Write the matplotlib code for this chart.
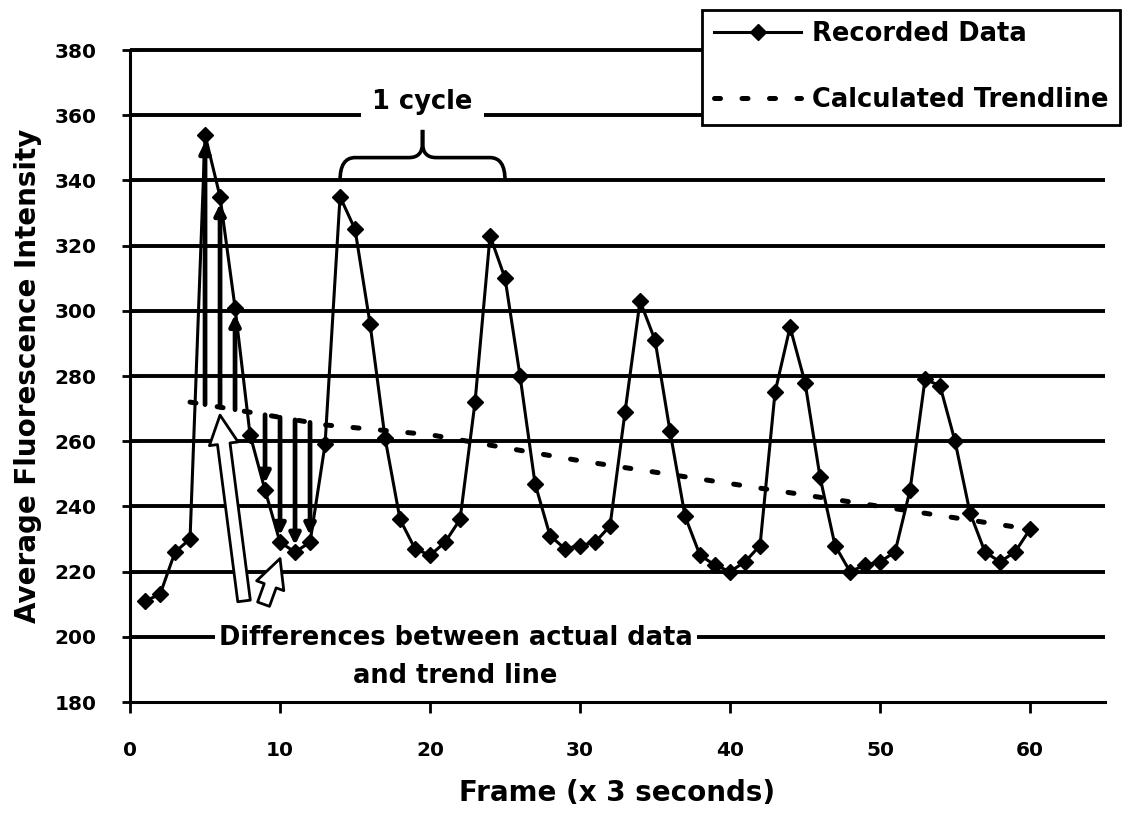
import numpy as np
import matplotlib
matplotlib.use("Agg")
import matplotlib.pyplot as plt
from matplotlib.path import Path
from matplotlib.patches import PathPatch

# values
frames = list(range(1, 61))
recorded = [211, 213, 226, 230, 354, 335, 301, 262, 245, 229,
            226, 229, 259, 335, 325, 296, 261, 236, 227, 225,
            229, 236, 272, 323, 310, 280, 247, 231, 227, 228,
            229, 234, 269, 303, 291, 263, 237, 225, 222, 220,
            223, 228, 275, 295, 278, 249, 228, 220, 222, 223,
            226, 245, 279, 277, 260, 238, 226, 223, 226, 233]

trend_frames = [4, 13, 20, 30, 40, 50, 60]
trend_values = [272, 265, 262, 254, 247, 240, 233]

# frames where the gap to the trend line is marked with arrows
diff_up = [5, 6, 7]
diff_down = [9, 10, 11, 12]

# peaks bracketed as "1 cycle"
cycle_start, cycle_end = 14, 25

y_ticks = list(range(180, 381, 20))
x_ticks = list(range(0, 61, 10))

plt.rcParams['font.family'] = 'DejaVu Sans'
plt.rcParams['font.weight'] = 'bold'
plt.rcParams['axes.labelweight'] = 'bold'

fig = plt.figure(figsize=(11.23, 8.16), dpi=100)
ax = fig.add_axes([0.1158, 0.1397, 0.8682, 0.799])

ax.set_xlim(0, 65)
ax.set_ylim(180, 380)

# heavy horizontal rules instead of the default grid
ax.hlines(y_ticks[1:], 0, 65, color='black', lw=2.8, clip_on=False, zorder=1)

ax.plot(trend_frames, trend_values, color='black', lw=3.6,
        linestyle=(0, (1.2, 4.3)), dash_capstyle='round', zorder=3,
        label='Calculated Trendline')
ax.plot(frames, recorded, color='black', lw=2.2, marker='D', ms=8.5,
        zorder=4, label='Recorded Data')

# arrows between trend line and data
for f in diff_up + diff_down:
    start = np.interp(f, trend_frames, trend_values)
    ax.annotate('', xy=(f, recorded[f - 1]), xytext=(f, start),
                arrowprops=dict(arrowstyle='-|>', color='black', lw=3.4,
                                mutation_scale=16, shrinkA=0, shrinkB=5),
                zorder=4)

hollow = dict(arrowstyle='simple,head_length=0.8,head_width=0.8,tail_width=0.35',
              fc='white', ec='black', lw=2, mutation_scale=26,
              shrinkA=0, shrinkB=0)
ax.annotate('', xy=(6.0, 268), xytext=(7.6, 211), arrowprops=hollow, zorder=5)
ax.annotate('', xy=(10.0, 224), xytext=(8.9, 210), arrowprops=hollow, zorder=5)

ax.text(21.7, 199.5, 'Differences between actual data', ha='center', va='center',
        fontsize=18.5, zorder=6, bbox=dict(fc='white', ec='none', pad=3))
ax.text(21.7, 188, 'and trend line', ha='center', va='center', fontsize=18.5,
        zorder=6)

# curly brace over one cycle
mid = (cycle_start + cycle_end) / 2
lo, hi, top = 340, 347, 355.5
verts = [(cycle_start, lo), (cycle_start, hi), (cycle_start + 1, hi),
         (mid - 0.9, hi), (mid, hi), (mid, hi + 4.5), (mid, top),
         (mid, hi + 4.5), (mid, hi), (mid + 0.9, hi),
         (cycle_end - 1, hi), (cycle_end, hi), (cycle_end, lo)]
codes = [Path.MOVETO, Path.CURVE3, Path.CURVE3,
         Path.LINETO, Path.CURVE3, Path.CURVE3, Path.LINETO,
         Path.LINETO, Path.CURVE3, Path.CURVE3,
         Path.LINETO, Path.CURVE3, Path.CURVE3]
ax.add_patch(PathPatch(Path(verts, codes), fill=False, ec='black', lw=2.6,
                       zorder=5))
ax.text(mid, 362, '1 cycle', ha='center', va='baseline', fontsize=18.5,
        zorder=6, bbox=dict(fc='white', ec='none', pad=8))

ax.set_yticks(y_ticks)
ax.set_xticks(x_ticks)
ax.tick_params(axis='y', direction='inout', length=12, width=2, pad=18,
               labelsize=14.5)
ax.tick_params(axis='x', direction='out', length=8, width=2, pad=20,
               labelsize=14.5)
for side in ['top', 'right']:
    ax.spines[side].set_visible(False)
for side in ['left', 'bottom']:
    ax.spines[side].set_linewidth(2.2)

ax.set_ylabel('Average Fluorescence Intensity', fontsize=20, labelpad=9)
ax.set_xlabel('Frame (x 3 seconds)', fontsize=20, labelpad=14)

handles, labels = ax.get_legend_handles_labels()
leg = ax.legend(handles[::-1], labels[::-1], loc='upper right',
                bbox_to_anchor=(0.997, 0.988), bbox_transform=fig.transFigure,
                fontsize=18.5, numpoints=1, fancybox=False, edgecolor='black',
                framealpha=1, handlelength=3.4, handletextpad=0.4,
                labelspacing=1.55, borderpad=0.45, borderaxespad=0)
leg.get_frame().set_linewidth(2)
leg.set_zorder(10)

fig.savefig('out.png', dpi=100)
